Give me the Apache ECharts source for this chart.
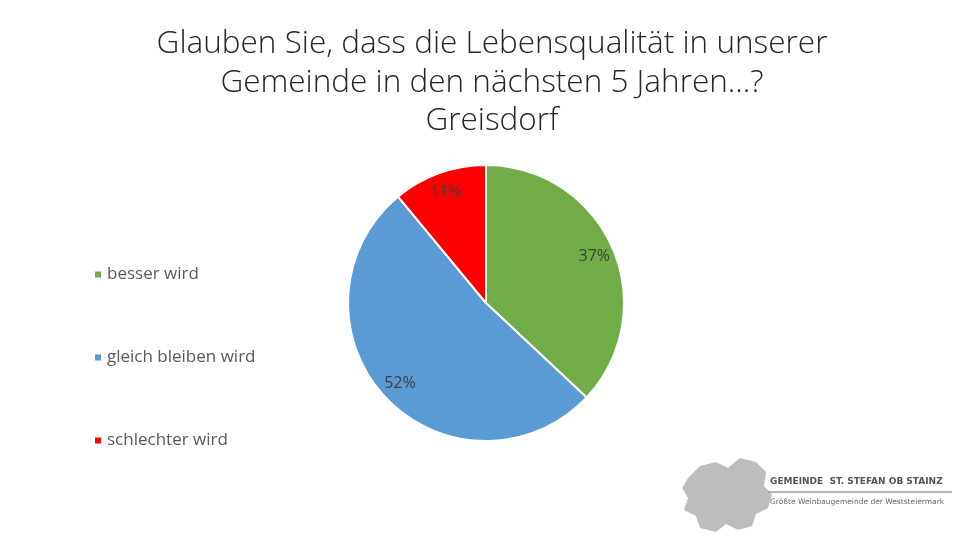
<!DOCTYPE html>
<html>
<head>
<meta charset="utf-8">
<script src="https://cdn.jsdelivr.net/npm/echarts@6/dist/echarts.min.js"></script>
<style>
  html, body { margin: 0; padding: 0; background: #fff; }
  #chart { width: 960px; height: 540px; }
</style>
</head>
<body>
<div id="chart"></div>
<script>
const categories = ['besser wird', 'gleich bleiben wird', 'schlechter wird']
const shares = [37, 52, 11]
const colors = ['#70AD47', '#5B9BD5', '#FF0000']

const chart = echarts.init(document.getElementById('chart'))

const pieData = categories.map((name, i) => ({
  name: name,
  value: shares[i],
  itemStyle: { color: colors[i] }
}))

// rough outline of the vine leaf in the logo
const leafPoints = [
  [688, 478], [700, 466], [716, 462], [728, 468], [740, 458], [756, 462],
  [766, 472], [764, 486], [772, 494], [768, 508], [756, 514], [752, 526],
  [738, 530], [726, 524], [716, 532], [700, 528], [696, 516], [684, 510],
  [688, 498], [682, 488]
]

const option = {
  animation: false,
  title: {
    text: 'Glauben Sie, dass die Lebensqualität in unserer\nGemeinde in den nächsten 5 Jahren…?\nGreisdorf',
    left: 487,
    textAlign: 'center',
    top: 20,
    textStyle: {
      fontFamily: 'Open Sans',
      fontWeight: 300,
      fontSize: 31.5,
      lineHeight: 38.5,
      color: '#262626'
    }
  },
  legend: {
    orient: 'vertical',
    left: 88,
    top: 261,
    itemWidth: 8,
    itemHeight: 8,
    itemGap: 66,
    icon: 'rect',
    data: categories,
    textStyle: {
      fontFamily: 'Open Sans',
      fontSize: 17,
      color: '#595959'
    }
  },
  series: [
    {
      type: 'pie',
      center: [486, 303],
      radius: 138,
      startAngle: 90,
      clockwise: true,
      label: { show: false },
      labelLine: { show: false },
      itemStyle: { borderColor: '#fff', borderWidth: 2 },
      data: pieData
    },
    {
      // invisible ring only to place the value labels near the rim
      type: 'pie',
      center: [486, 303],
      radius: [92, 138],
      startAngle: 90,
      clockwise: true,
      silent: true,
      itemStyle: { color: 'rgba(0,0,0,0)' },
      label: {
        show: true,
        position: 'inside',
        formatter: '{c}%',
        fontFamily: 'Open Sans',
        fontSize: 16,
        color: '#404040'
      },
      labelLine: { show: false },
      data: categories.map((name, i) => ({ name: name, value: shares[i] }))
    }
  ],
  graphic: [
    {
      type: 'polygon',
      shape: { points: leafPoints },
      style: { fill: '#bdbdbd' }
    },
    {
      type: 'line',
      shape: { x1: 768, y1: 492, x2: 952, y2: 492 },
      style: { stroke: '#a0a0a0', lineWidth: 1.5 }
    },
    {
      type: 'text',
      left: 770,
      top: 477,
      style: {
        text: 'GEMEINDE  ST. STEFAN OB STAINZ',
        fontFamily: 'DejaVu Sans',
        fontWeight: 'bold',
        fontSize: 9,
        fill: '#555'
      }
    },
    {
      type: 'text',
      left: 770,
      top: 498,
      style: {
        text: 'Größte Weinbaugemeinde der Weststeiermark',
        fontFamily: 'DejaVu Sans',
        fontSize: 7.5,
        fill: '#666'
      }
    }
  ]
}

chart.setOption(option)
</script>
</body>
</html>
